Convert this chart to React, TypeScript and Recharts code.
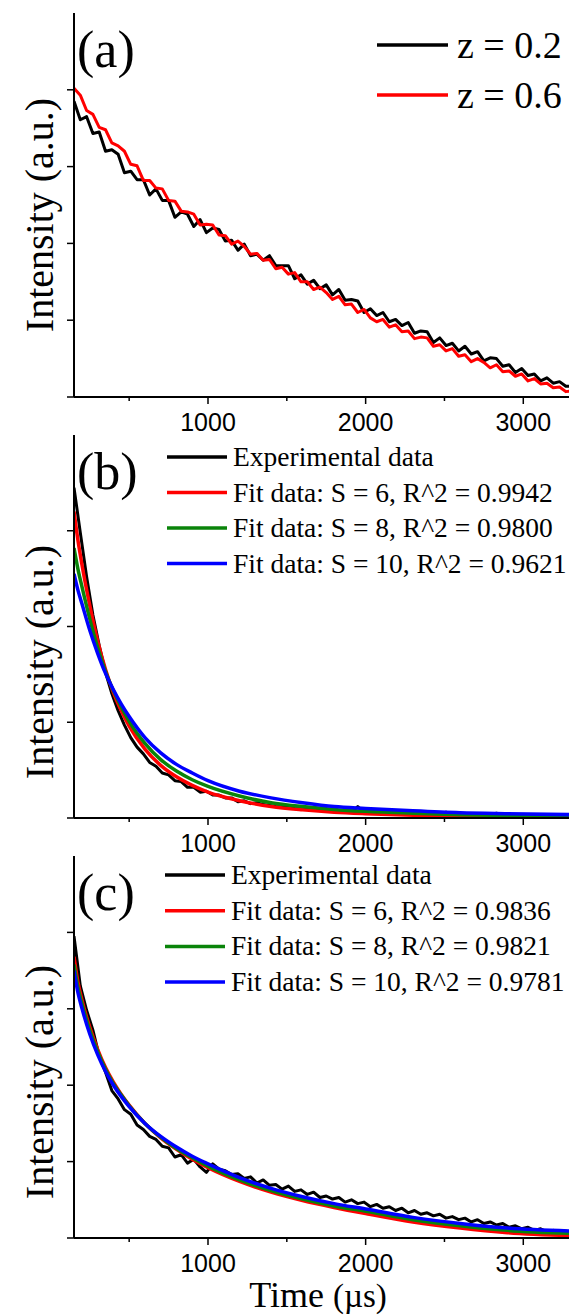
import React from 'react';
import { LineChart, Line, XAxis, YAxis } from 'recharts';

// shared time grid of the measured decays (µs)
const TIME_US = [
  150, 190, 230, 270, 310, 350, 390, 430, 470, 510,
  550, 590, 630, 670, 710, 750, 790, 830, 870, 910,
  950, 990, 1030, 1070, 1110, 1150, 1190, 1230, 1270, 1310,
  1350, 1390, 1430, 1470, 1510, 1550, 1590, 1630, 1670, 1710,
  1750, 1790, 1830, 1870, 1910, 1950, 1990, 2030, 2070, 2110,
  2150, 2190, 2230, 2270, 2310, 2350, 2390, 2430, 2470, 2510,
  2550, 2590, 2630, 2670, 2710, 2750, 2790, 2830, 2870, 2910,
  2950, 2990, 3030, 3070, 3110, 3150, 3190, 3230, 3270, 3310,
];

// (a) measured decays
const A_Z02 = [
  3.85, 3.61, 3.65, 3.43, 3.45, 3.20, 3.22, 3.16, 2.92, 2.94,
  2.83, 2.83, 2.63, 2.71, 2.56, 2.56, 2.34, 2.41, 2.38, 2.22,
  2.31, 2.14, 2.20, 2.18, 2.03, 2.04, 1.91, 1.99, 1.84, 1.86,
  1.78, 1.84, 1.71, 1.71, 1.71, 1.54, 1.59, 1.47, 1.52, 1.41,
  1.46, 1.33, 1.40, 1.26, 1.27, 1.25, 1.10, 1.15, 1.06, 1.10,
  0.98, 1.01, 0.93, 0.97, 0.83, 0.86, 0.85, 0.71, 0.77, 0.67,
  0.70, 0.60, 0.66, 0.56, 0.59, 0.47, 0.51, 0.50, 0.40, 0.42,
  0.32, 0.37, 0.28, 0.30, 0.21, 0.25, 0.18, 0.20, 0.14, 0.14,
];
const A_Z06 = [
  4.02, 3.93, 3.73, 3.68, 3.51, 3.48, 3.31, 3.27, 3.20, 3.03,
  3.01, 2.82, 2.82, 2.72, 2.71, 2.56, 2.55, 2.42, 2.41, 2.38,
  2.24, 2.25, 2.24, 2.11, 2.10, 1.99, 2.03, 1.96, 1.86, 1.87,
  1.78, 1.79, 1.67, 1.69, 1.60, 1.62, 1.50, 1.50, 1.40, 1.43,
  1.36, 1.27, 1.31, 1.20, 1.21, 1.10, 1.14, 1.03, 0.98, 1.01,
  0.91, 0.94, 0.85, 0.86, 0.76, 0.78, 0.77, 0.66, 0.68, 0.60,
  0.63, 0.53, 0.55, 0.46, 0.50, 0.45, 0.38, 0.42, 0.33, 0.34,
  0.27, 0.30, 0.21, 0.24, 0.17, 0.18, 0.12, 0.13, 0.07, 0.08,
];

// (b) measured decay
const B_EXP = [
  3.45, 2.98, 2.52, 2.12, 1.80, 1.52, 1.30, 1.12, 0.97, 0.84,
  0.74, 0.67, 0.58, 0.54, 0.47, 0.45, 0.39, 0.38, 0.32, 0.32,
  0.27, 0.28, 0.24, 0.24, 0.21, 0.21, 0.17, 0.18, 0.15, 0.16,
  0.14, 0.13, 0.12, 0.115, 0.11, 0.10, 0.095, 0.09, 0.085, 0.08,
  0.075, 0.07, 0.068, 0.065, 0.062, 0.12, 0.058, 0.055, 0.052, 0.05,
  0.048, 0.046, 0.044, 0.042, 0.04, 0.038, 0.036, 0.035, 0.034, 0.06,
  0.032, 0.031, 0.03, 0.029, 0.028, 0.027, 0.026, 0.05, 0.025, 0.024,
  0.023, 0.022, 0.021, 0.02, 0.02, 0.019, 0.018, 0.018, 0.017, 0.017,
];

// (c) measured decay
const C_EXP = [
  3.95, 3.30, 2.98, 2.72, 2.38, 2.17, 1.93, 1.82, 1.68, 1.62,
  1.48, 1.42, 1.33, 1.29, 1.20, 1.18, 1.06, 1.09, 0.98, 1.03,
  0.93, 0.86, 0.97, 0.90, 0.88, 0.83, 0.84, 0.78, 0.80, 0.72,
  0.76, 0.69, 0.70, 0.64, 0.68, 0.61, 0.63, 0.57, 0.60, 0.53,
  0.55, 0.51, 0.53, 0.47, 0.50, 0.45, 0.47, 0.41, 0.44, 0.39,
  0.41, 0.36, 0.39, 0.33, 0.36, 0.31, 0.33, 0.29, 0.31, 0.26,
  0.28, 0.24, 0.26, 0.21, 0.24, 0.19, 0.21, 0.17, 0.19, 0.14,
  0.16, 0.12, 0.14, 0.10, 0.12, 0.08, 0.10, 0.07, 0.09, 0.07,
];

// fitted curves
const FIT_TIME = [150, 175, 200, 250, 300, 350, 400, 450, 500, 600, 700, 800, 900, 1000, 1200, 1400, 1600, 1800, 2000, 2300, 2600, 2900, 3300];
const B_S6 = [3.20, 2.90, 2.65, 2.22, 1.85, 1.55, 1.31, 1.12, 0.96, 0.72, 0.55, 0.43, 0.34, 0.27, 0.18, 0.12, 0.085, 0.06, 0.045, 0.03, 0.02, 0.015, 0.01];
const B_S8 = [2.82, 2.60, 2.42, 2.08, 1.78, 1.53, 1.33, 1.16, 1.01, 0.78, 0.61, 0.49, 0.40, 0.33, 0.23, 0.16, 0.12, 0.09, 0.07, 0.05, 0.035, 0.025, 0.02];
const B_S10 = [2.55, 2.38, 2.24, 1.96, 1.72, 1.51, 1.34, 1.19, 1.06, 0.84, 0.68, 0.56, 0.47, 0.39, 0.28, 0.21, 0.16, 0.12, 0.10, 0.075, 0.055, 0.045, 0.035];
const C_S6 = [3.68, 3.35, 3.12, 2.76, 2.47, 2.23, 2.04, 1.88, 1.74, 1.50, 1.31, 1.16, 1.03, 0.92, 0.74, 0.60, 0.49, 0.40, 0.32, 0.21, 0.13, 0.07, 0.03];
const C_S8 = [3.58, 3.28, 3.07, 2.72, 2.44, 2.21, 2.02, 1.87, 1.73, 1.50, 1.32, 1.17, 1.05, 0.94, 0.76, 0.62, 0.51, 0.42, 0.35, 0.24, 0.16, 0.10, 0.06];
const C_S10 = [3.50, 3.21, 3.01, 2.67, 2.40, 2.18, 2.00, 1.85, 1.72, 1.50, 1.33, 1.19, 1.07, 0.97, 0.79, 0.65, 0.54, 0.45, 0.38, 0.27, 0.19, 0.13, 0.09];

const X_TICKS = [500, 1000, 1500, 2000, 2500, 3000];
const X_LABELED = [1000, 2000, 3000];
const X_DOMAIN = [150, 3290];

const SERIF = '"Liberation Serif", "Times New Roman", serif';
const SANS = '"Liberation Sans", Arial, sans-serif';

const toPoints = (ts: number[], vs: number[]) => ts.map((t, i) => ({ t, v: vs[i] }));

const PANELS = [
  {
    tag: '(a)', top: 13, bottom: 397, yMax: 5, yTicks: [0, 1, 2, 3, 4], labelY: 215,
    legend: { x: 377, lineW: 71, y: 45, step: 50, size: 38 },
    series: [
      { name: 'z = 0.2', color: '#000', data: toPoints(TIME_US, A_Z02), fit: false },
      { name: 'z = 0.6', color: '#ff0000', data: toPoints(TIME_US, A_Z06), fit: false },
    ],
  },
  {
    tag: '(b)', top: 435, bottom: 818, yMax: 4, yTicks: [0, 1, 2, 3], labelY: 662,
    legend: { x: 167, lineW: 60, y: 457, step: 35.5, size: 27.5 },
    series: [
      { name: 'Experimental data', color: '#000', data: toPoints(TIME_US, B_EXP), fit: false },
      { name: 'Fit data: S = 6, R^2 = 0.9942', color: '#ff0000', data: toPoints(FIT_TIME, B_S6), fit: true },
      { name: 'Fit data: S = 8, R^2 = 0.9800', color: '#0a840a', data: toPoints(FIT_TIME, B_S8), fit: true },
      { name: 'Fit data: S = 10, R^2 = 0.9621', color: '#0000ff', data: toPoints(FIT_TIME, B_S10), fit: true },
    ],
  },
  {
    tag: '(c)', top: 856, bottom: 1238, yMax: 5, yTicks: [0, 1, 2, 3, 4], labelY: 1082,
    legend: { x: 165, lineW: 60, y: 875, step: 35.7, size: 27.5 },
    series: [
      { name: 'Experimental data', color: '#000', data: toPoints(TIME_US, C_EXP), fit: false },
      { name: 'Fit data: S = 6, R^2 = 0.9836', color: '#ff0000', data: toPoints(FIT_TIME, C_S6), fit: true },
      { name: 'Fit data: S = 8, R^2 = 0.9821', color: '#0a840a', data: toPoints(FIT_TIME, C_S8), fit: true },
      { name: 'Fit data: S = 10, R^2 = 0.9781', color: '#0000ff', data: toPoints(FIT_TIME, C_S10), fit: true },
    ],
  },
];

const XTick = (props: any) => {
  const { x, y, payload } = props;
  const major = X_LABELED.includes(payload.value);
  return (
    <g>
      <line x1={x} x2={x} y1={y} y2={y + (major ? 7 : 4)} stroke="#000" strokeWidth={1.5} />
      {major && (
        <text x={x} y={y + 16} dy="0.71em" textAnchor="middle" fontFamily={SANS} fontSize={25} fill="#000">
          {payload.value}
        </text>
      )}
    </g>
  );
};

const YTick = (props: any) => {
  const { x, y } = props;
  return <line x1={x - 7} x2={x} y1={y} y2={y} stroke="#000" strokeWidth={1.5} />;
};

const TOP_PAD = 20;
const X_AXIS_H = 40;

const Panel = ({ p }: { p: (typeof PANELS)[number] }) => {
  const h = p.bottom - p.top + TOP_PAD + X_AXIS_H;
  return (
    <div style={{ position: 'absolute', left: 0, top: p.top - TOP_PAD }}>
      <LineChart width={571} height={h} margin={{ top: TOP_PAD, right: 2, left: 14, bottom: 0 }}>
        <XAxis
          dataKey="t"
          type="number"
          domain={X_DOMAIN}
          allowDataOverflow
          ticks={X_TICKS}
          height={X_AXIS_H}
          tickSize={0}
          tickMargin={0}
          tick={<XTick />}
          axisLine={{ stroke: '#000', strokeWidth: 2 }}
        />
        <XAxis
          xAxisId="top"
          orientation="top"
          dataKey="t"
          type="number"
          domain={X_DOMAIN}
          height={0}
          tick={false}
          tickLine={false}
          axisLine={{ stroke: '#000', strokeWidth: 2 }}
        />
        <YAxis
          type="number"
          domain={[0, p.yMax]}
          allowDataOverflow
          ticks={p.yTicks}
          width={60}
          tickSize={0}
          tickMargin={0}
          tick={<YTick />}
          axisLine={{ stroke: '#000', strokeWidth: 2 }}
        />
        <YAxis
          yAxisId="right"
          orientation="right"
          type="number"
          domain={[0, p.yMax]}
          width={0}
          tick={false}
          tickLine={false}
          axisLine={{ stroke: '#000', strokeWidth: 2 }}
        />
        {p.series.map((s) => (
          <Line
            key={s.name}
            data={s.data}
            dataKey="v"
            type={s.fit ? 'monotone' : 'linear'}
            stroke={s.color}
            strokeWidth={s.fit ? 3.5 : 3}
            strokeLinejoin="round"
            dot={false}
            isAnimationActive={false}
          />
        ))}
      </LineChart>
    </div>
  );
};

const App = () => {
  return (
    <div style={{ position: 'absolute', left: 0, top: 0, width: 571, height: 1316, overflow: 'hidden', background: '#fff' }}>
      {PANELS.map((p) => (
        <Panel key={p.tag} p={p} />
      ))}
      <svg width={571} height={1316} style={{ position: 'absolute', left: 0, top: 0, pointerEvents: 'none' }}>
        {PANELS.map((p) => (
          <g key={p.tag}>
            <text x={77} y={p.top + 54} fontFamily={SERIF} fontSize={52} fill="#000">
              {p.tag}
            </text>
            <text
              x={53}
              y={p.labelY}
              transform={`rotate(-90, 53, ${p.labelY})`}
              textAnchor="middle"
              fontFamily={SERIF}
              fontSize={40}
              fill="#000"
            >
              Intensity (a.u.)
            </text>
            {p.series.map((s, i) => {
              const ly = p.legend.y + i * p.legend.step;
              return (
                <g key={s.name}>
                  <line x1={p.legend.x} x2={p.legend.x + p.legend.lineW} y1={ly} y2={ly} stroke={s.color} strokeWidth={3.5} />
                  <text
                    x={p.legend.x + p.legend.lineW + (p.legend.size > 30 ? 9 : 6)}
                    y={ly + p.legend.size * 0.33}
                    fontFamily={SERIF}
                    fontSize={p.legend.size}
                    fill="#000"
                  >
                    {s.name}
                  </text>
                </g>
              );
            })}
          </g>
        ))}
        <text x={318} y={1307} textAnchor="middle" fontFamily={SERIF} fill="#000">
          <tspan fontSize={36}>Time </tspan>
          <tspan fontSize={33}>(µs)</tspan>
        </text>
      </svg>
    </div>
  );
};

export default App;
